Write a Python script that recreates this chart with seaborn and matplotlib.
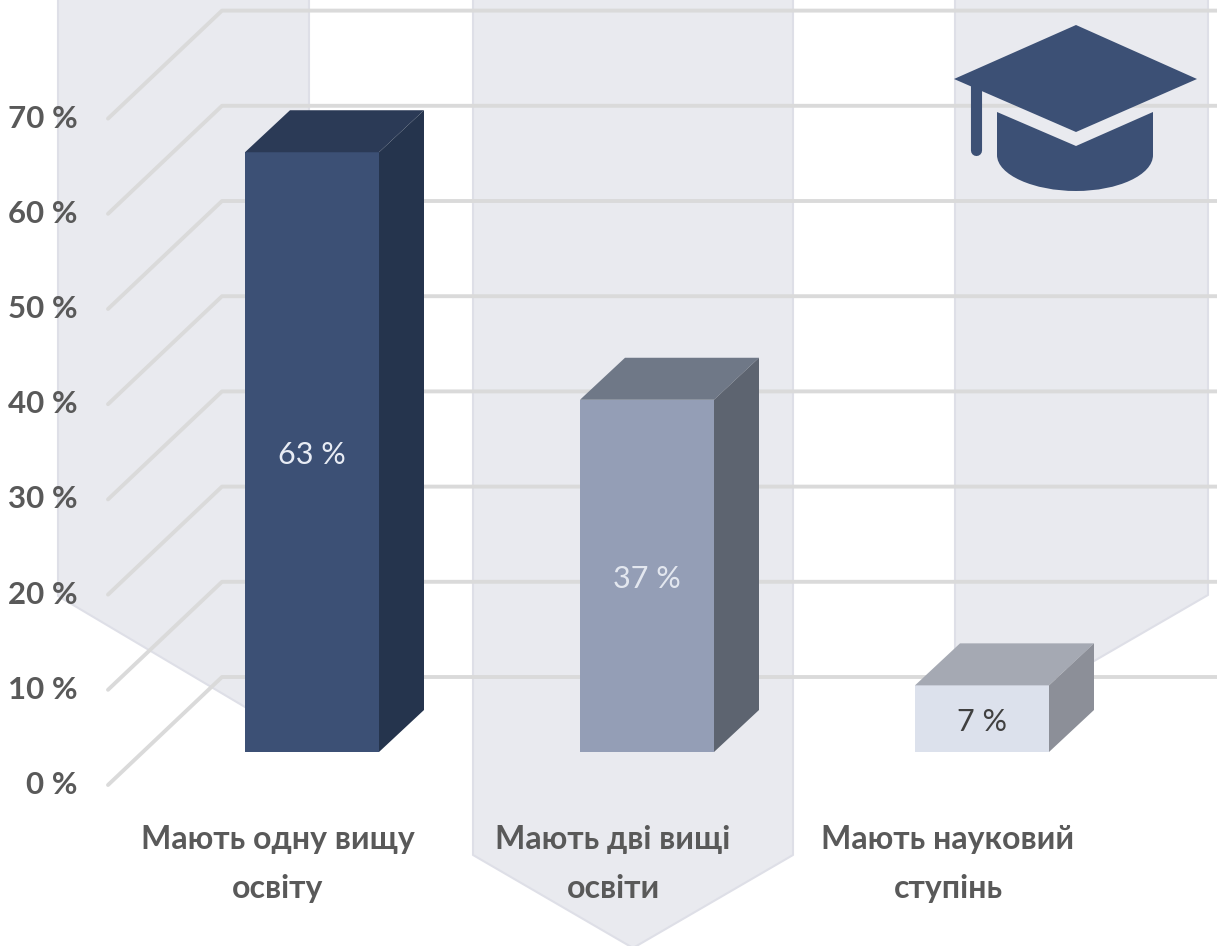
import numpy as np
import pandas as pd
import matplotlib
matplotlib.use("Agg")
import matplotlib.pyplot as plt
import seaborn as sns
from matplotlib.patches import Polygon, PathPatch
from matplotlib.path import Path

categories = ["Мають одну вищу\nосвіту", "Мають дві вищі\nосвіти", "Мають науковий\nступінь"]
values = [63, 37, 7]
value_labels = ["63 %", "37 %", "7 %"]
tick_values = [0, 10, 20, 30, 40, 50, 60, 70]
tick_labels = ["0 %", "10 %", "20 %", "30 %", "40 %", "50 %", "60 %", "70 %"]

front_colors = ["#3C5075", "#949EB6", "#DCE1EC"]
side_colors = ["#25344D", "#5D6470", "#8C8F98"]
top_colors = ["#2B3A56", "#6F7887", "#A5A9B3"]
label_colors = ["#E8ECF4", "#E3E7EF", "#404040"]

W, H = 1217, 946
PX_PER_UNIT = 9.52   # пікселів на 1 %
PX_PER_CAT = 335
FONT = ["Lato", "DejaVu Sans"]

sns.set_theme(style="white")
plt.rcParams["font.family"] = FONT

fig = plt.figure(figsize=(W / 100, H / 100), dpi=100, facecolor="white")

# фон, сітка та значок у координатах картинки
bg = fig.add_axes([0, 0, 1, 1], zorder=1)
bg.set_xlim(0, W)
bg.set_ylim(H, 0)
bg.axis("off")

band_fill = "#E9EAEF"
band_edge = "#DEDFE7"
bands = [
    [(58, -5), (309, -5), (309, 745), (58, 596)],
    [(473, -5), (793, -5), (793, 855), (633, 948), (473, 855)],
    [(955, -5), (1208, -5), (1208, 595), (1082, 668), (955, 668)],
]
for pts in bands:
    bg.add_patch(Polygon(pts, closed=True, facecolor=band_fill, edgecolor=band_edge, lw=1.5, joinstyle="round"))

grid_color = "#DADADA"
for v, lab in zip(tick_values, tick_labels):
    back_y = 677 - v * PX_PER_UNIT
    bg.plot([108, 222, W + 5], [back_y + 108, back_y, back_y], color=grid_color, lw=2.8,
            solid_joinstyle="round", solid_capstyle="round", zorder=3)
    bg.text(78, back_y + 108, lab, ha="right", va="center", fontsize=22.5, fontweight="bold",
            color="#595959", zorder=5)

# шапочка
cap_color = "#3C5075"
bg.add_patch(Polygon([(1076, 25), (1197, 79), (1076, 132), (954, 79)], closed=True, color=cap_color, lw=0, zorder=4))
bg.plot([975.5, 975.5], [84, 150], color=cap_color, lw=8, solid_capstyle="round", zorder=4)
verts = [(997, 112), (1076, 146), (1153, 112), (1153, 155),
         (1153, 175), (1118, 191), (1076, 191),
         (1034, 191), (997, 175), (997, 155), (997, 112)]
codes = [Path.MOVETO, Path.LINETO, Path.LINETO, Path.LINETO,
         Path.CURVE4, Path.CURVE4, Path.CURVE4,
         Path.CURVE4, Path.CURVE4, Path.CURVE4, Path.CLOSEPOLY]
bg.add_patch(PathPatch(Path(verts, codes), facecolor=cap_color, edgecolor="none", zorder=4))

# стовпчики
ax = fig.add_axes([0, 0, 1, 1], zorder=2)
ax.patch.set_alpha(0)
df = pd.DataFrame({"cat": categories, "val": values})
sns.barplot(data=df, x="cat", y="val", hue="cat", palette=front_colors, width=0.4,
            legend=False, saturation=1, ax=ax, linewidth=0)
ax.set_xlim(-312 / PX_PER_CAT, (W - 312) / PX_PER_CAT)
ax.set_ylim((752 - H) / PX_PER_UNIT, 752 / PX_PER_UNIT)
ax.axis("off")

dx = 45 / PX_PER_CAT
dy = 42 / PX_PER_UNIT
for i, bar in enumerate(ax.patches):
    x0, x1 = bar.get_x(), bar.get_x() + bar.get_width()
    y1 = bar.get_height()
    ax.add_patch(Polygon([(x0, y1), (x1, y1), (x1 + dx, y1 + dy), (x0 + dx, y1 + dy)],
                         closed=True, facecolor=top_colors[i], edgecolor="none"))
    ax.add_patch(Polygon([(x1, 0), (x1 + dx, dy), (x1 + dx, y1 + dy), (x1, y1)],
                         closed=True, facecolor=side_colors[i], edgecolor="none"))
    ax.text((x0 + x1) / 2, y1 / 2 - 3 / PX_PER_UNIT, value_labels[i], ha="center", va="center", fontsize=22,
            color=label_colors[i])
    ax.text(i - 34 / PX_PER_CAT, -(864 - 752) / PX_PER_UNIT, categories[i], ha="center", va="center",
            fontsize=23, fontweight="bold", color="#595959", linespacing=1.8)

fig.savefig("out.png", dpi=100)
